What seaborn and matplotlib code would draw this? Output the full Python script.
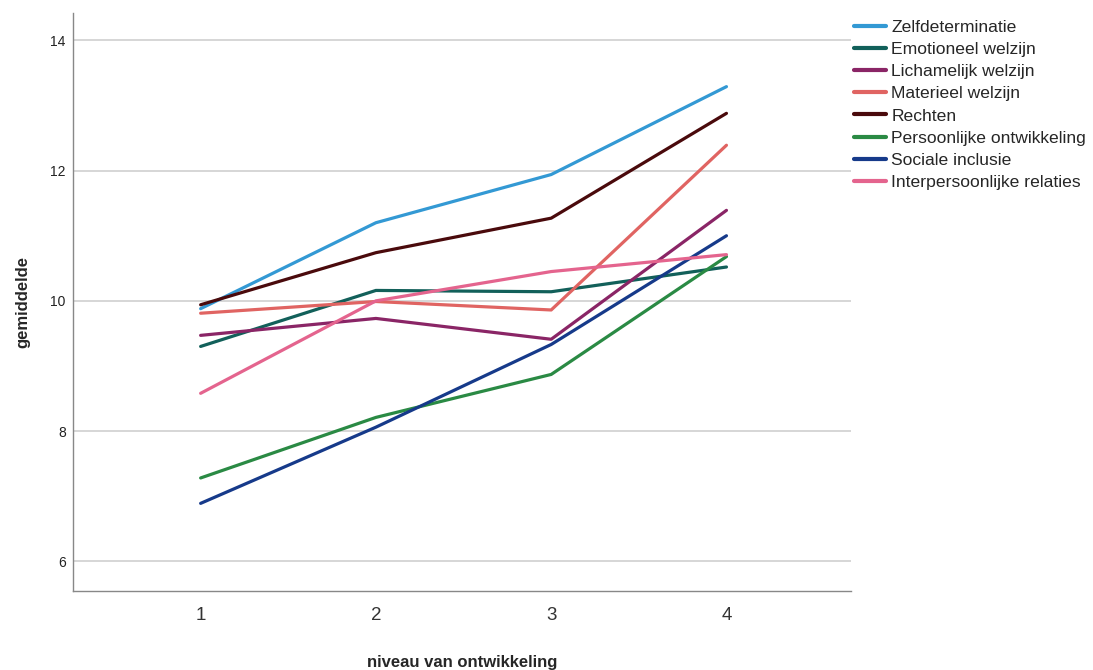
import matplotlib
matplotlib.use("Agg")
import matplotlib.pyplot as plt
import pandas as pd
import seaborn as sns

niveaus = [1, 2, 3, 4]

zelfdeterminatie = [9.88, 11.20, 11.94, 13.29]
emotioneel = [9.30, 10.16, 10.14, 10.52]
lichamelijk = [9.47, 9.73, 9.41, 11.39]
materieel = [9.81, 9.99, 9.86, 12.39]
rechten = [9.94, 10.74, 11.27, 12.88]
persoonlijk = [7.28, 8.21, 8.87, 10.68]
sociaal = [6.89, 8.06, 9.33, 11.00]
interpersoonlijk = [8.58, 10.00, 10.45, 10.71]

namen = ["Zelfdeterminatie", "Emotioneel welzijn", "Lichamelijk welzijn",
         "Materieel welzijn", "Rechten", "Persoonlijke ontwikkeling",
         "Sociale inclusie", "Interpersoonlijke relaties"]
reeksen = [zelfdeterminatie, emotioneel, lichamelijk, materieel,
           rechten, persoonlijk, sociaal, interpersoonlijk]
kleuren = ["#3399d4", "#12605a", "#8a2566", "#e06462",
           "#4a0a0c", "#2a8a44", "#163a8a", "#e4648e"]

rows = []
for naam, waarden in zip(namen, reeksen):
    for n, w in zip(niveaus, waarden):
        rows.append({"niveau": n, "gemiddelde": w, "schaal": naam})
df = pd.DataFrame(rows)

sns.set_style("white")
plt.rcParams["font.family"] = ["Liberation Sans", "DejaVu Sans"]

fig = plt.figure(figsize=(10.93, 6.70), dpi=100)
ax = fig.add_axes([0.0665, 0.1185, 0.712, 0.862])

sns.lineplot(data=df, x="niveau", y="gemiddelde", hue="schaal",
             hue_order=namen, palette=dict(zip(namen, kleuren)),
             linewidth=2.3, ax=ax, legend=True)

ax.set_xlim(0.27, 4.71)
ax.set_ylim(5.55, 14.42)
ax.set_xticks(niveaus)
ax.set_yticks([6, 8, 10, 12, 14])
ax.yaxis.grid(True, color="#cfcfcf", linewidth=1.2)
ax.set_axisbelow(True)
ax.tick_params(axis="y", length=0, labelsize=10, pad=5, labelcolor="#222222")
ax.tick_params(axis="x", length=0, labelsize=13.5, pad=12, labelcolor="#333333")
for s in ["top", "right"]:
    ax.spines[s].set_visible(False)
for s in ["left", "bottom"]:
    ax.spines[s].set_color("#888888")
    ax.spines[s].set_linewidth(1.0)

ax.set_xlabel("niveau van ontwikkeling", fontsize=12, fontweight="bold", labelpad=22)
ax.set_ylabel("gemiddelde", fontsize=12, fontweight="bold", labelpad=14)

handles, labels = ax.get_legend_handles_labels()
ax.get_legend().remove()
leg = fig.legend(handles, labels, loc="upper left",
                 bbox_to_anchor=(854 / 1093, 1 - 20 / 670), frameon=False,
                 fontsize=12.6, handlelength=1.8, handletextpad=0.33,
                 labelspacing=0.39, borderaxespad=0, borderpad=0)
for line in leg.get_lines():
    line.set_linewidth(3)

fig.savefig("out.png", dpi=100)
